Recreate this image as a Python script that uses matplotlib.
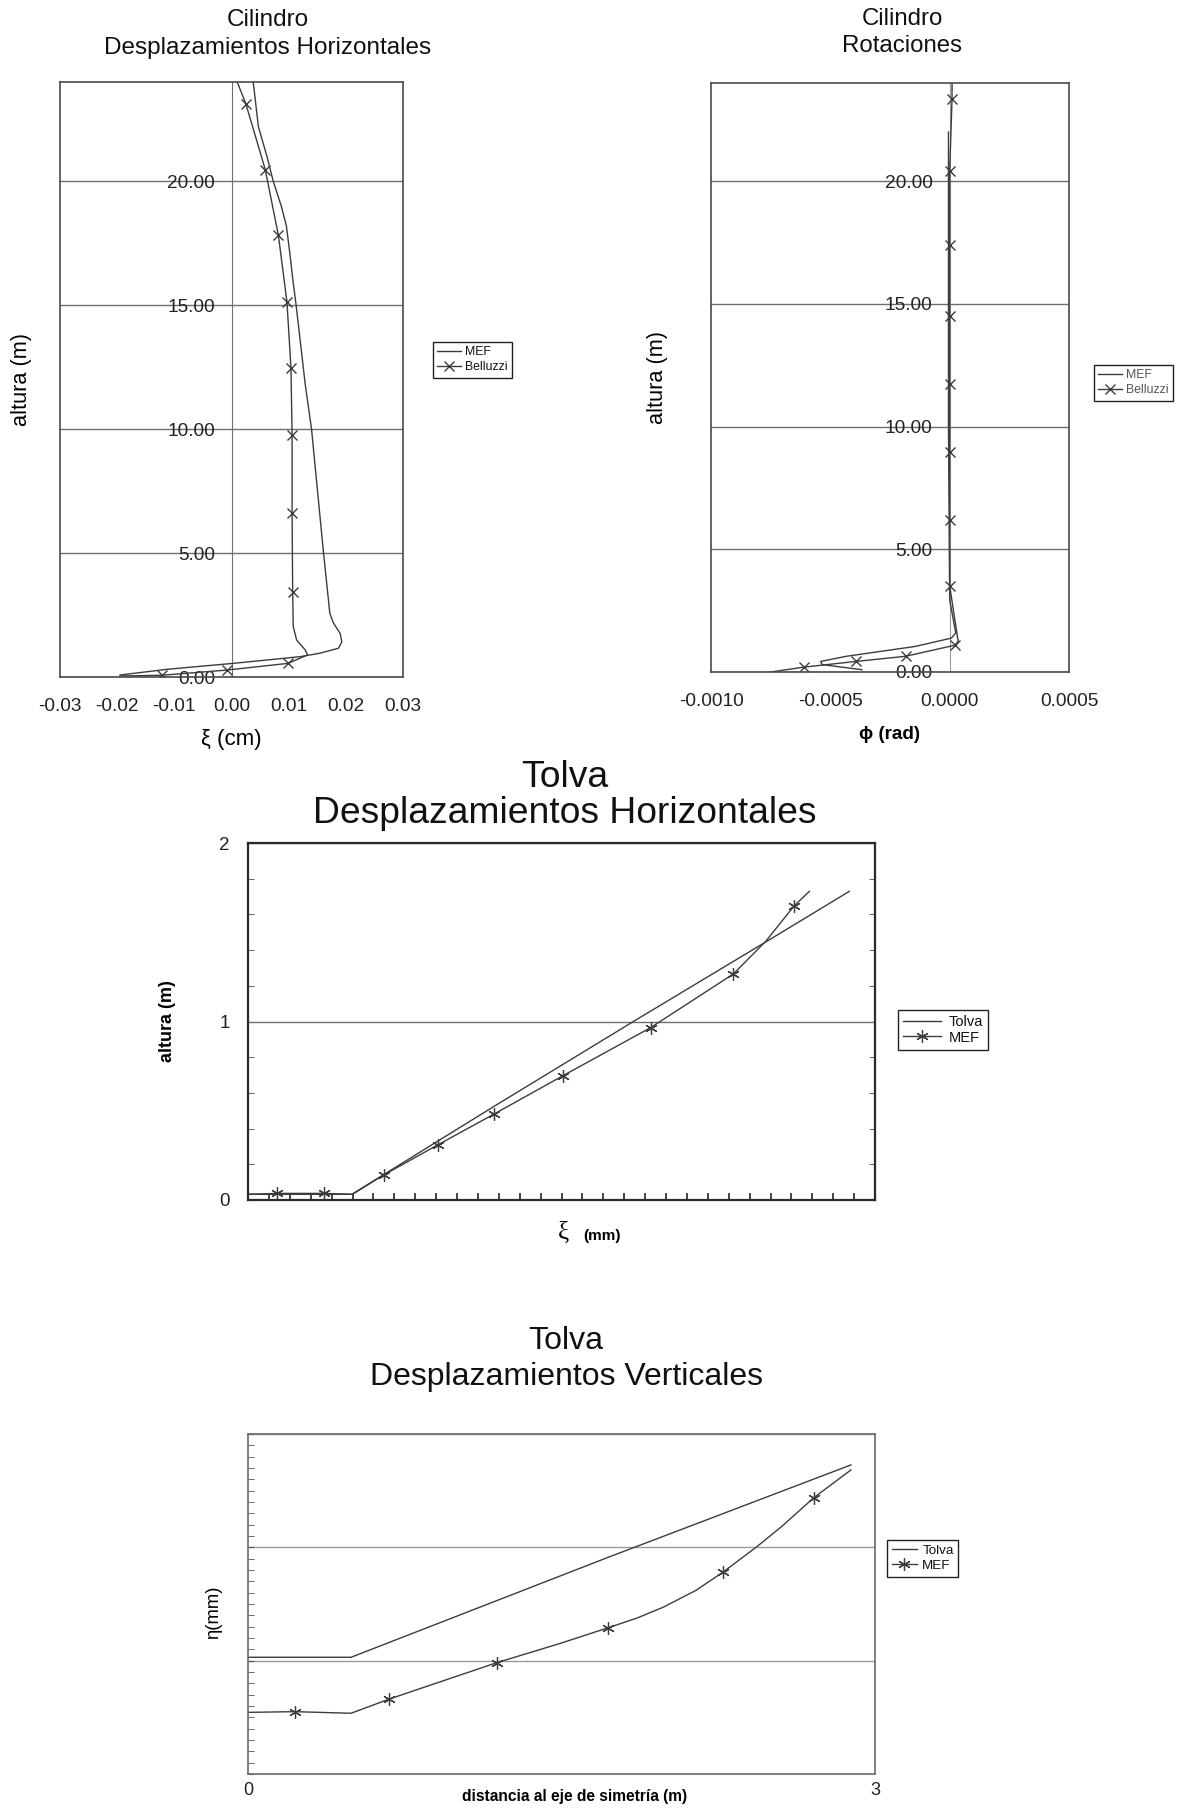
import matplotlib
matplotlib.use('Agg')
import matplotlib.pyplot as plt
from matplotlib.ticker import MultipleLocator, NullFormatter

plt.rcParams['font.family'] = ['Liberation Sans', 'DejaVu Sans']

# ---------------- data ----------------
# Cilindro - desplazamientos horizontales (xi in cm, altura in m)
cyl_mef_xi = [0.0038, 0.0047, 0.0062, 0.0073, 0.0087, 0.0096, 0.0102, 0.0108, 0.0113, 0.0129,
              0.0140, 0.0161, 0.0172, 0.0178, 0.0190, 0.0193, 0.0187, 0.0155, 0.0120, 0.0003,
              -0.0113, -0.0195]
cyl_mef_h = [24.0, 22.2, 21.0, 20.0, 19.0, 18.2, 17.1, 15.9, 15.0, 11.8,
             10.0, 5.0, 2.57, 2.19, 1.76, 1.42, 1.16, 0.96, 0.82, 0.55,
             0.31, 0.08]
cyl_bel_xi = [0.0010, 0.0025, 0.0059, 0.0082, 0.0097, 0.0104, 0.0106, 0.0106, 0.0107,
              0.0108, 0.0114, 0.0129, 0.0133, 0.0099, -0.0008, -0.0122, -0.0195]
cyl_bel_h = [24.0, 23.13, 20.47, 17.82, 15.13, 12.46, 9.76, 6.63, 3.44,
             2.03, 1.49, 1.09, 0.89, 0.55, 0.28, 0.07, 0.04]
cyl_bel_marks = [1, 2, 3, 4, 5, 6, 7, 8, 13, 14, 15]
cyl_xticks = [-0.03, -0.02, -0.01, 0.00, 0.01, 0.02, 0.03]
cyl_xticklabels = ['-0.03', '-0.02', '-0.01', '0.00', '0.01', '0.02', '0.03']
cyl_yticks = [0, 5, 10, 15, 20]
cyl_yticklabels = ['0.00', '5.00', '10.00', '15.00', '20.00']

# Cilindro - rotaciones (phi in rad)
rot_mef_phi = [-0.000005, -0.000005, 0.0, 0.0000255, 0.0000067, -0.000145, -0.000289,
               -0.000433, -0.000541, -0.000534, -0.000368]
rot_mef_h = [22.0, 10.0, 2.94, 1.59, 1.38, 1.04, 0.84, 0.64, 0.43, 0.30, 0.095]
rot_bel_phi = [0.00001, 0.00001, 0.0, 0.0, 0.0, 0.0, 0.0, 0.0, 0.0, 0.0000356,
               0.0000212, -0.000185, -0.000393, -0.000609, -0.00075]
rot_bel_h = [24.0, 23.36, 20.43, 17.39, 14.5, 11.75, 8.96, 6.2, 3.51, 1.25,
             1.09, 0.64, 0.43, 0.20, 0.0]
rot_bel_marks = [1, 2, 3, 4, 5, 6, 7, 8, 10, 11, 12, 13]
rot_xticks = [-0.0010, -0.0005, 0.0000, 0.0005]
rot_xticklabels = ['-0.0010', '-0.0005', '0.0000', '0.0005']

# Tolva - desplazamientos horizontales
tolh_tolva_xi = [0.0, 0.497, 1.175, 1.844, 2.482, 2.877]
tolh_tolva_h = [0.032, 0.032, 0.523, 1.0, 1.449, 1.729]
tolh_mef_xi = [0.0, 0.139, 0.365, 0.5, 0.649, 0.907, 1.178, 1.505, 1.927, 2.322, 2.477, 2.614, 2.686]
tolh_mef_h = [0.032, 0.037, 0.037, 0.032, 0.14, 0.308, 0.482, 0.695, 0.966, 1.266, 1.449, 1.649, 1.729]
tolh_mef_marks = [1, 2, 4, 5, 6, 7, 8, 9, 11]
tolh_yticks = [0, 1, 2]

# Tolva - desplazamientos verticales
tolv_tolva_d = [0.0, 0.493, 1.732, 2.885]
tolv_tolva_eta = [1.03, 1.03, 1.918, 2.727]
tolv_mef_d = [0.0, 0.224, 0.493, 0.677, 1.19, 1.495, 1.724, 1.86, 1.985, 2.143, 2.272, 2.435,
              2.553, 2.708, 2.885]
tolv_mef_eta = [0.544, 0.55, 0.536, 0.662, 0.982, 1.153, 1.291, 1.375, 1.47, 1.62, 1.78, 2.006,
                2.183, 2.439, 2.683]
tolv_mef_marks = [1, 3, 4, 6, 10, 13]
tolv_xticks = [0, 3]

# ---------------- figure ----------------
W, H = 1180, 1811
fig = plt.figure(figsize=(W / 100, H / 100), dpi=100)

LINE = '#3c3c3c'
GRID = '#6e6e6e'
FRAME = '#4a4a4a'


def rect(l, t, r, b):
    return [l / W, 1 - b / H, (r - l) / W, (b - t) / H]


def style_frame(ax, lw=1.2, color=FRAME):
    for s in ax.spines.values():
        s.set_color(color)
        s.set_linewidth(lw)


def legend(ax, x, y, fs, color='#111111', hl=2.0, htp=0.35, bp=0.4, ls=0.25):
    leg = ax.legend(loc='upper left', bbox_to_anchor=(x / W, 1 - y / H),
                    bbox_transform=fig.transFigure, borderaxespad=0, fontsize=fs,
                    frameon=True, fancybox=False, framealpha=1, edgecolor='#222222',
                    handlelength=hl, handletextpad=htp, borderpad=bp, labelspacing=ls)
    leg.get_frame().set_linewidth(1.0)
    for t in leg.get_texts():
        t.set_color(color)
    return leg


def title(cx, baselines, lines, fs):
    for yb, txt in zip(baselines, lines):
        fig.text(cx / W, 1 - yb / H, txt, ha='center', va='baseline', fontsize=fs,
                 color='#111111')


def ylabel(ax, txt, fx, fy, **kw):
    ax.set_ylabel(txt, **kw)
    ax.yaxis.set_label_coords(fx, fy)
    ax.yaxis.label.set_verticalalignment('center')


def xlabel(ax, txt, fx, fy, **kw):
    ax.set_xlabel(txt, **kw)
    ax.xaxis.set_label_coords(fx, fy)
    ax.xaxis.label.set_verticalalignment('center')


# ---- Plot 1: Cilindro desplazamientos horizontales ----
ax1 = fig.add_axes(rect(60, 82, 403, 677))
ax1.plot(cyl_mef_xi, cyl_mef_h, color=LINE, lw=1.0, label='MEF')
ax1.plot(cyl_bel_xi, cyl_bel_h, color=LINE, lw=1.0, marker='x', ms=7, mew=1.0,
         markevery=cyl_bel_marks, label='Belluzzi')
ax1.set_xlim(-0.03, 0.03)
ax1.set_ylim(0, 24)
ax1.set_xticks(cyl_xticks)
ax1.set_xticklabels(cyl_xticklabels)
ax1.set_yticks(cyl_yticks)
ax1.set_yticklabels(cyl_yticklabels)
ax1.tick_params(axis='y', length=0, pad=-111.6, labelsize=13.7, labelcolor='#222222')
ax1.tick_params(axis='x', length=0, pad=15, labelsize=13.7, labelcolor='#222222')
ax1.grid(axis='y', color=GRID, lw=1.0)
ax1.axvline(0, color=GRID, lw=0.8, zorder=1)
style_frame(ax1)
ylabel(ax1, 'altura (m)', (21 - 60) / 343, 0.5, fontsize=15.7)
xlabel(ax1, 'ξ (cm)', 0.5, (677 - 740) / 595, fontsize=16)
legend(ax1, 433, 342, 8.8, hl=1.9, htp=0.4, bp=0.35, ls=0.25)
title(268, [26.5, 54], ['Cilindro', 'Desplazamientos Horizontales'], 17.5)

# ---- Plot 2: Cilindro rotaciones ----
ax2 = fig.add_axes(rect(711, 83, 1069, 672))
ax2.plot(rot_mef_phi, rot_mef_h, color=LINE, lw=1.0, label='MEF')
ax2.plot(rot_bel_phi, rot_bel_h, color=LINE, lw=1.0, marker='x', ms=7, mew=1.0,
         markevery=rot_bel_marks, label='Belluzzi')
ax2.set_xlim(-0.0010, 0.0005)
ax2.set_ylim(0, 24)
ax2.set_xticks(rot_xticks)
ax2.set_xticklabels(rot_xticklabels)
ax2.set_yticks(cyl_yticks)
ax2.set_yticklabels(cyl_yticklabels)
ax2.tick_params(axis='y', length=0, pad=-159.5, labelsize=13.8, labelcolor='#222222')
ax2.tick_params(axis='x', length=0, pad=15, labelsize=13.8, labelcolor='#222222')
ax2.grid(axis='y', color=GRID, lw=1.0)
ax2.axvline(0, color='#9a9a9a', lw=0.8, zorder=1)
style_frame(ax2)
ylabel(ax2, 'altura (m)', (658 - 711) / 358, 0.5, fontsize=15.7)
xlabel(ax2, 'ϕ (rad)', 0.5, (672 - 735) / 589, fontsize=13.6, fontweight='bold')
legend(ax2, 1094, 365, 8.8, color='#555555', hl=1.9, htp=0.4, bp=0.35, ls=0.25)
title(902, [25, 52], ['Cilindro', 'Rotaciones'], 17.3)

# ---- Plot 3: Tolva desplazamientos horizontales ----
ax3 = fig.add_axes(rect(248, 843, 875, 1200))
ax3.plot(tolh_tolva_xi, tolh_tolva_h, color=LINE, lw=1.0, label='Tolva')
ax3.plot(tolh_mef_xi, tolh_mef_h, color=LINE, lw=1.0, marker=(6, 2, 0), ms=9, mew=0.9,
         markevery=tolh_mef_marks, label='MEF')
ax3.set_xlim(0, 3)
ax3.set_ylim(0, 2)
ax3.set_yticks(tolh_yticks)
ax3.yaxis.set_minor_locator(MultipleLocator(0.2))
ax3.xaxis.set_major_locator(MultipleLocator(0.1))
ax3.xaxis.set_major_formatter(NullFormatter())
ax3.tick_params(axis='y', which='major', length=0, pad=13, labelsize=13.5, labelcolor='#222222')
ax3.tick_params(axis='y', which='minor', direction='in', length=4, left=True, right=True,
                color=FRAME)
ax3.tick_params(axis='x', which='major', direction='in', length=5, color='#222222', width=1.2)
ax3.grid(axis='y', which='major', color=GRID, lw=1.0)
style_frame(ax3, lw=1.6, color='#2a2a2a')
ylabel(ax3, 'altura (m)', (167 - 248) / 627, 0.5, fontsize=13, fontweight='bold')
ax3.text((563 - 248) / 627, (1200 - 1233) / 357, 'ξ', transform=ax3.transAxes,
         ha='center', va='center', fontsize=18, family=['Liberation Serif', 'DejaVu Serif'])
ax3.text((602 - 248) / 627, (1200 - 1236) / 357, '(mm)', transform=ax3.transAxes,
         ha='center', va='center', fontsize=11, fontweight='bold')
legend(ax3, 898, 1010, 10.5, hl=2.6, htp=0.5, bp=0.35, ls=0.1)
title(565, [786.7, 822.7], ['Tolva', 'Desplazamientos Horizontales'], 26.8)

# ---- Plot 4: Tolva desplazamientos verticales ----
ax4 = fig.add_axes(rect(248, 1434, 875, 1774))
ax4.plot(tolv_tolva_d, tolv_tolva_eta, color=LINE, lw=1.0, label='Tolva')
ax4.plot(tolv_mef_d, tolv_mef_eta, color=LINE, lw=1.0, marker=(6, 2, 0), ms=9, mew=0.9,
         markevery=tolv_mef_marks, label='MEF')
ax4.set_xlim(0, 3)
ax4.set_ylim(0, 3)
ax4.set_xticks(tolv_xticks)
ax4.set_yticks([0, 1, 2, 3])
ax4.yaxis.set_major_formatter(NullFormatter())
ax4.yaxis.set_minor_locator(MultipleLocator(0.1))
ax4.tick_params(axis='x', length=0, pad=6, labelsize=13, labelcolor='#222222')
ax4.tick_params(axis='y', which='both', direction='in', length=4, color='#555555')
ax4.grid(axis='y', which='major', color='#9a9a9a', lw=1.0)
style_frame(ax4, lw=1.2, color='#6a6a6a')
ylabel(ax4, 'η(mm)', (214 - 248) / 627, (1774 - 1612) / 340, fontsize=13.3)
xlabel(ax4, 'distancia al eje de simetría (m)', (575 - 248) / 627, (1774 - 1797) / 340,
       fontsize=11.2, fontweight='bold')
legend(ax4, 887, 1540, 9.6, hl=1.9, htp=0.4, bp=0.35, ls=0.2)
title(566, [1349.3, 1385], ['Tolva', 'Desplazamientos Verticales'], 23.0)

fig.savefig('out.png', dpi=100, facecolor='white')
